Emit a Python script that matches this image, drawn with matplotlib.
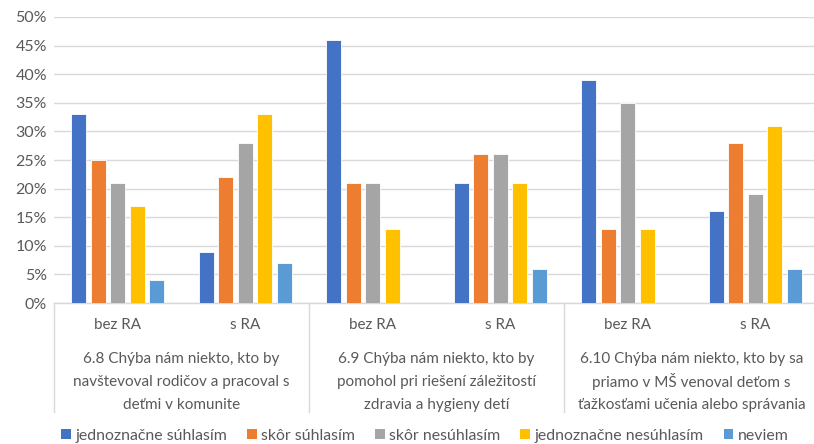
import matplotlib
matplotlib.use("Agg")
import matplotlib.pyplot as plt
import matplotlib.transforms as mtransforms
from matplotlib.patches import Patch
import numpy as np

plt.rcParams['font.family'] = ['Lato', 'DejaVu Sans']

series_names = ["jednoznačne súhlasím", "skôr súhlasím", "skôr nesúhlasím",
                "jednoznačne nesúhlasím", "neviem"]
colors = ["#4472C4", "#ED7D31", "#A5A5A5", "#FFC000", "#5B9BD5"]

sub_labels = ["bez RA", "s RA", "bez RA", "s RA", "bez RA", "s RA"]
main_labels = [
    ["6.8 Chýba nám niekto, kto by", "navštevoval rodičov a pracoval s",
     "deťmi v komunite"],
    ["6.9 Chýba nám niekto, kto by", "pomohol pri riešení záležitostí",
     "zdravia a hygieny detí"],
    ["6.10 Chýba nám niekto, kto by sa", "priamo v MŠ venoval deťom s",
     "ťažkosťami učenia alebo správania"],
]

# percentages per series, one value per (question, RA) slot
jednoznacne_suhlasim = [33, 9, 46, 21, 39, 16]
skor_suhlasim = [25, 22, 21, 26, 13, 28]
skor_nesuhlasim = [21, 28, 21, 26, 35, 19]
jednoznacne_nesuhlasim = [17, 33, 13, 21, 13, 31]
neviem = [4, 7, 0, 6, 0, 6]
values = [jednoznacne_suhlasim, skor_suhlasim, skor_nesuhlasim,
          jednoznacne_nesuhlasim, neviem]

W, H = 814, 444
fig = plt.figure(figsize=(W / 100, H / 100), dpi=100)
left, right, top, bottom = 54, 819, 17, 303
ax = fig.add_axes([left / W, (H - bottom) / H, (right - left) / W, (bottom - top) / H])

n_slots = len(sub_labels)
x = np.arange(n_slots)
pitch = 0.153
bw = 0.118
for i, (vals, c, name) in enumerate(zip(values, colors, series_names)):
    offs = (i - 2) * pitch
    ax.bar(x + offs, np.array(vals) / 100, width=bw, color=c,
           edgecolor="white", linewidth=0.6, label=name, zorder=3)

text_color = "#595959"
ax.set_xlim(-0.5, n_slots - 0.5)
ax.set_ylim(0, 0.5)
ticks = np.arange(0, 0.51, 0.05)
ax.set_yticks(ticks)
ax.set_yticklabels([f"{int(round(v * 100))}%" for v in ticks])
ax.tick_params(axis='y', length=0, labelsize=11.5, labelcolor=text_color, pad=5)
ax.tick_params(axis='x', length=0, labelbottom=False)
ax.grid(axis='y', color="#D9D9D9", linewidth=1.0, zorder=0)
for s in ["top", "right", "left"]:
    ax.spines[s].set_visible(False)
ax.spines["bottom"].set_color("#D9D9D9")
ax.spines["bottom"].set_linewidth(1.0)

trans = mtransforms.blended_transform_factory(ax.transData, ax.transAxes)
axh = bottom - top
sep_depth = (412 - bottom) / axh
for k in range(0, n_slots + 1, 2):
    ax.plot([k - 0.5, k - 0.5], [0, -sep_depth], transform=trans,
            color="#D9D9D9", linewidth=1.0, clip_on=False)

for xi, lab in zip(x, sub_labels):
    ax.text(xi, -(325 - bottom) / axh, lab, transform=trans, ha='center',
            va='center', fontsize=11, color=text_color)

line_y = [357, 380, 403]
for g, lines in enumerate(main_labels):
    for ly, line in zip(line_y, lines):
        ax.text(2 * g + 0.5, -(ly - bottom) / axh, line, transform=trans,
                ha='center', va='center_baseline', fontsize=11,
                color=text_color)

handles = [Patch(facecolor=c, edgecolor='none') for c in colors]
fig.legend(handles, series_names, loc='center', bbox_to_anchor=(425 / W, (H - 436) / H),
           ncol=5, frameon=False, fontsize=11.4, handlelength=0.6,
           handleheight=0.6, handletextpad=0.3, columnspacing=1.25,
           labelcolor=text_color)

fig.savefig("out.png", dpi=100)
